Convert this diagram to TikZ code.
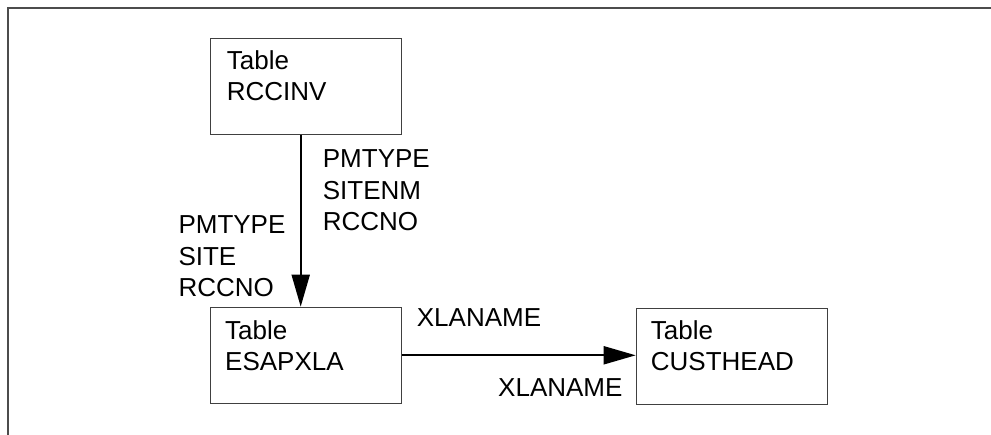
\documentclass[tikz,border=0pt]{standalone}
\usepackage{fontspec}
\setmainfont{Liberation Sans}
\usetikzlibrary{arrows.meta,calc}
\begin{document}
\begin{tikzpicture}[x=1pt,y=-1pt,
  tablebox/.style={draw=black!75,line width=1.2pt,minimum width=191pt,minimum height=96pt,anchor=north west,inner sep=0pt},
  lbl/.style={inner sep=0pt,align=left,font=\fontsize{26}{31.5}\selectfont},
  arr/.style={line width=2pt,-{Triangle[length=32pt,width=18pt]}},
  frame/.style={draw=black!70,line width=2pt}]
\useasboundingbox (0,0) rectangle (991,435);
\draw[frame] (8,435) -- (8,8) -- (991,8);
\node[tablebox] (rcc) at (210,37.7) {};
\node[tablebox] (esa) at (210,306.7) {};
\node[tablebox] (cus) at (635.7,307.7) {};
\node[lbl,anchor=base west] (trcc) at (226.7,101) {Table\\RCCINV};
\node[lbl,anchor=base west] (tesa) at (225,370.7) {Table\\ESAPXLA};
\node[lbl,anchor=base west] (tcus) at (650.7,370.7) {Table\\CUSTHEAD};
\coordinate (ax) at (300.7,0);
\draw[arr] (rcc.south -| ax) -- (esa.north -| ax);
\draw[arr] (esa.east) -- (esa.east -| cus.west);
\node[lbl,anchor=base west] (lr) at (322.7,230.7) {PMTYPE\\SITENM\\RCCNO};
\node[lbl,anchor=base west] (ll) at (178.3,296.7) {PMTYPE\\SITE\\RCCNO};
\node[lbl,anchor=base west] (xu) at (416.7,326.7) {XLANAME};
\node[lbl,anchor=base east] (xl) at (622.7,396.7) {XLANAME};
\end{tikzpicture}
\end{document}
